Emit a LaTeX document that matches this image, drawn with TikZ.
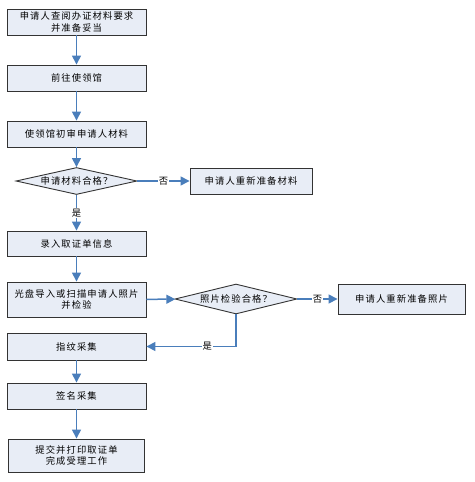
\documentclass[tikz,border=0pt]{standalone}
\usepackage{fontspec}
\newfontfamily\cjk[LetterSpace=12]{Noto Sans CJK SC}
\usetikzlibrary{shapes.geometric}
\usetikzlibrary{arrows.meta}
\definecolor{linkblue}{HTML}{4A7EBB}
\definecolor{boxfill}{HTML}{E8EDF6}

\begin{document}
\begin{tikzpicture}[x=1pt,y=-1pt, font=\cjk\fontsize{9.3}{11.5}\selectfont,
stepbox/.style={draw=black!80, fill=boxfill, line width=0.9pt, minimum width=139pt, minimum height=26pt, align=center, inner sep=1pt},
testbox/.style={draw=black!80, fill=boxfill, line width=0.9pt, diamond, aspect=4.5, inner sep=0pt, minimum width=121pt, minimum height=27pt},
link/.style={draw=linkblue, line width=1.5pt, -{Triangle[length=9pt,width=9pt]}},
answer/.style={fill=white, inner sep=1pt}]
\useasboundingbox (0,0) rectangle (474,482);
\par
\node[stepbox] (apply) at (76.5,22) {申请人查阅办证材料要求\\并准备妥当};
\node[stepbox] (goto) at (76.5,78) {前往使领馆};
\node[stepbox] (check) at (76.5,134) {使领馆初审申请人材料};
\node[testbox] (ok) at (76.5,181) {申请材料合格？};
\node[stepbox, minimum width=122pt] (redo) at (251,181) {申请人重新准备材料};
\node[stepbox, minimum height=25pt] (enter) at (76.5,243.5) {录入取证单信息};
\node[stepbox, minimum height=35pt] (photo) at (76.5,299.5) {光盘导入或扫描申请人照片\\并检验};
\node[testbox, minimum width=122pt, minimum height=30pt] (photook) at (236,299) {照片检验合格？};
\node[stepbox, minimum width=127pt, minimum height=30pt] (rephoto) at (401.5,299) {申请人重新准备照片};
\node[stepbox, minimum height=27pt] (finger) at (76.5,346.5) {指纹采集};
\node[stepbox] (sign) at (76.5,396) {签名采集};
\node[stepbox, minimum width=136pt, minimum height=33pt] (submit) at (76.5,455.5) {提交并打印取证单\\完成受理工作};
\par
\draw[link] (apply) -- (goto);
\draw[link] (goto) -- (check);
\draw[link] (check) -- (ok);
\draw[link] (ok) -- node[answer] {否} (redo);
\draw[link] (ok) -- node[answer] {是} (enter);
\draw[link] (enter) -- (photo);
\draw[link] (photo) -- (photook);
\draw[link] (photook) -- node[answer] {否} (rephoto);
\draw[link] (photook.south) |- node[answer, pos=0.66] {是} (finger.east);
\draw[link] (finger) -- (sign);
\draw[link] (sign) -- (submit);
\par
\end{tikzpicture}
\end{document}
